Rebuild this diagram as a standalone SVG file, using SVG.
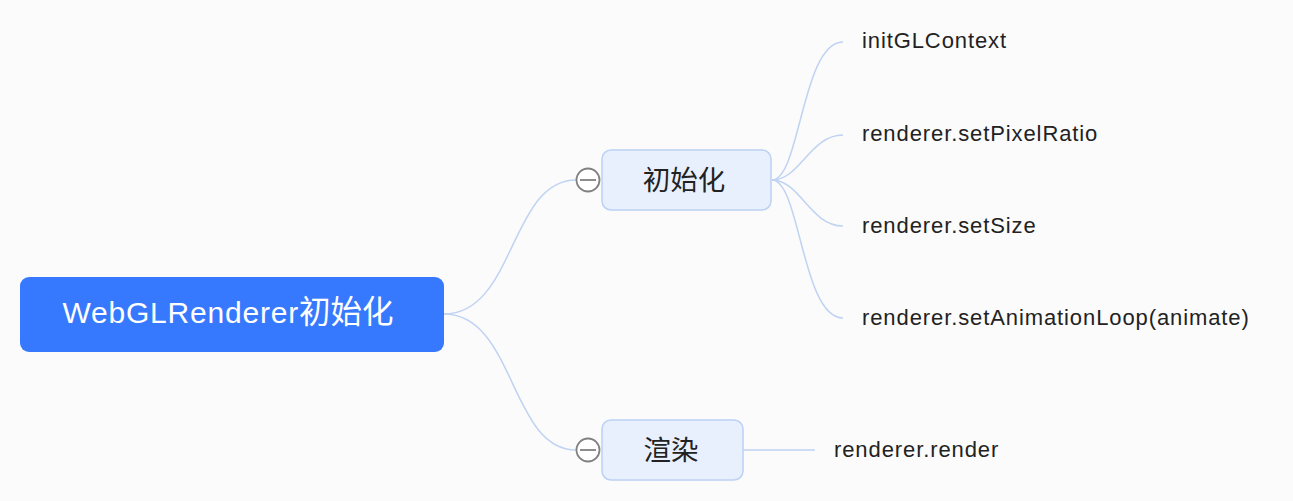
<svg xmlns="http://www.w3.org/2000/svg" width="1293" height="501" viewBox="0 0 1293 501">
<style>
.bg{fill:#fbfbfc}
.link{fill:none;stroke:#c0d3f2;stroke-width:1.5}
.sub{fill:#e8f0fe;stroke:#bcd1f3;stroke-width:1.5}
.t{font-family:"Liberation Sans","Noto Sans CJK SC",sans-serif;fill:#222}
.leaf{font-size:22px;letter-spacing:0.9px}
.tog{fill:#fff;stroke:#808080;stroke-width:1.8}
</style>
<rect class="bg" x="0" y="0" width="1293" height="501"/>
<g id="connectors">
<path class="link" d="M444,314 C515,314 510,180 576,180"/>
<path class="link" d="M444,314 C515,314 510,450 576,450"/>
<path class="link" d="M772,180 C800,180 802,42 843,42"/>
<path class="link" d="M772,180 C800,180 810,135 843,135"/>
<path class="link" d="M772,180 C800,180 810,226 843,226"/>
<path class="link" d="M772,180 C800,180 802,318 843,318"/>
<path class="link" d="M743,450 L815,450"/>
</g>
<g id="root">
<rect x="20" y="277" width="424" height="75" rx="9" fill="#3779fe"/>
<text class="t" x="228" y="323" font-size="30" letter-spacing="0.8" style="fill:#fff" text-anchor="middle">WebGLRenderer<tspan font-size="31.5" letter-spacing="0">初始化</tspan></text>
</g>
<g id="init">
<rect class="sub" x="602" y="150" width="169" height="60" rx="9"/>
<text class="t" x="684" y="190" font-size="27.5" text-anchor="middle">初始化</text>
<circle class="tog" cx="588" cy="180" r="11.5"/>
<line x1="580" y1="180" x2="596" y2="180" stroke="#808080" stroke-width="1.8"/>
</g>
<g id="render">
<rect class="sub" x="602" y="420" width="141" height="60" rx="9"/>
<text class="t" x="671" y="460" font-size="27.5" text-anchor="middle">渲染</text>
<circle class="tog" cx="588" cy="450" r="11.5"/>
<line x1="580" y1="450" x2="596" y2="450" stroke="#808080" stroke-width="1.8"/>
</g>
<g id="n1"><text class="t leaf" x="862" y="48">initGLContext</text></g>
<g id="n2"><text class="t leaf" x="862" y="141">renderer.setPixelRatio</text></g>
<g id="n3"><text class="t leaf" x="862" y="233">renderer.setSize</text></g>
<g id="n4"><text class="t leaf" x="862" y="325">renderer.setAnimationLoop(animate)</text></g>
<g id="n5"><text class="t leaf" x="834" y="457">renderer.render</text></g>
</svg>
